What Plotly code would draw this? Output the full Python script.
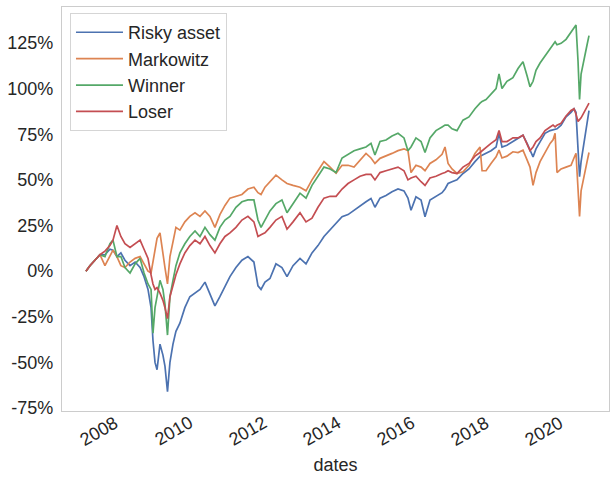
import plotly.graph_objects as go

dates = [
    "2007-01-26", "2007-03-06", "2007-04-24", "2007-06-13", "2007-08-01", "2007-09-19", "2007-10-19", "2007-11-27",
    "2008-01-05", "2008-02-14", "2008-04-04", "2008-05-24", "2008-07-12", "2008-08-20", "2008-09-28", "2008-10-28",
    "2008-11-16", "2008-12-06", "2008-12-26", "2009-01-24", "2009-02-22", "2009-03-14", "2009-04-08", "2009-05-02",
    "2009-06-01", "2009-06-30", "2009-08-08", "2009-09-26", "2009-11-14", "2010-01-04", "2010-02-22", "2010-04-12",
    "2010-05-31", "2010-07-19", "2010-09-06", "2010-10-26", "2010-12-14", "2011-02-11", "2011-04-11", "2011-06-09",
    "2011-08-07", "2011-09-16", "2011-10-16", "2011-11-24", "2012-01-12", "2012-03-11", "2012-05-09", "2012-06-28",
    "2012-08-26", "2012-11-03", "2013-01-01", "2013-03-01", "2013-04-29", "2013-06-27", "2013-08-26", "2013-10-24",
    "2013-12-22", "2014-02-19", "2014-04-19", "2014-06-17", "2014-08-15", "2014-10-03", "2014-11-11", "2014-12-31",
    "2015-02-28", "2015-04-28", "2015-06-26", "2015-08-24", "2015-10-02", "2015-11-01", "2015-12-20", "2016-02-08",
    "2016-03-18", "2016-05-06", "2016-07-04", "2016-09-02", "2016-10-01", "2016-10-31", "2016-12-09", "2017-01-27",
    "2017-03-27", "2017-05-25", "2017-07-23", "2017-09-11", "2017-10-01", "2017-11-09", "2017-12-28", "2018-02-16",
    "2018-03-17", "2018-04-15", "2018-06-03", "2018-08-01", "2018-09-20", "2018-11-08", "2018-12-18", "2019-01-16",
    "2019-02-15", "2019-03-16", "2019-04-25", "2019-06-13", "2019-08-02", "2019-08-31", "2019-09-20", "2019-10-09",
    "2019-11-18", "2020-01-06", "2020-02-24", "2020-03-24", "2020-04-13", "2020-05-03", "2020-05-18", "2020-06-02",
    "2020-06-22", "2020-07-11", "2020-07-31", "2020-08-19",
]

risky_asset = [
    0, 3, 6, 9, 9, 12, 11.5, 8,
    10, 6, 3, 5, 2, -3, -10, -20,
    -38, -50, -54, -40, -46, -52, -66, -50,
    -40, -33, -28.5, -20, -14, -12, -10, -6,
    -12, -19, -14, -8, -3, 2, 6, 8,
    5, -8, -10, -6, -4, 4, 2, -3,
    3, 7, 4, 10, 14, 19, 22.5, 26,
    29.8, 31, 33.4, 36, 38, 39.8, 35, 40,
    41.5, 43.5, 45, 44, 40, 33.4, 40.7, 39,
    29.8, 39, 41, 43, 45, 48, 49, 50,
    53.5, 56, 60, 63, 63.5, 64.5, 66, 68,
    75.5, 68, 69, 71, 73, 74.5, 70, 66,
    62.6, 67, 71, 75.5, 77, 77.5, 78, 78,
    80, 84.5, 87, 89, 87, 70, 51.7, 60,
    67, 73.6, 80, 88,
]

markowitz = [
    0, 3, 6, 9, 3, 8, 11.5, 8,
    3, 2, 5, 7, 8, 4, 0, -1,
    5, 11, 18, 21, 8, 2, -7, 8,
    16, 24, 22.5, 27, 30, 32, 30, 33,
    30, 24, 31, 36, 40, 41, 42, 45,
    46, 43, 42, 46, 49, 52.6, 50, 48,
    47, 46, 44, 50, 55, 60, 57, 53.6,
    58, 58, 57, 61, 64.5, 62, 59, 61.8,
    63, 64.5, 66, 67, 66, 54, 58, 57,
    55, 59, 61, 64, 68, 59, 56, 53.5,
    54.4, 58, 64.5, 68, 55, 55, 59, 62.6,
    66.3, 62, 63, 65.4, 65, 66.3, 61, 57,
    47, 54, 60, 65, 70, 72, 75.5, 54,
    56, 57, 58, 62, 64.5, 45, 30, 44,
    50, 55, 60, 65,
]

winner = [
    0, 3, 6, 9, 8, 15, 17, 8,
    8, 2, -1, 4, 7, -1, -7, -10,
    -34, -20, -14, -5, -10, -18, -35, -14,
    -5, 3, 10, 15, 19, 22, 19, 24,
    20, 17, 24, 28, 30, 35, 38, 39,
    39, 28, 24, 28, 33, 37, 39, 32,
    37, 42.7, 40, 47, 52, 57, 56, 54,
    62, 64, 66, 67, 68, 70, 63.6, 71,
    71.8, 74, 75.5, 73, 66, 68, 73, 71,
    65, 73, 77, 79, 80, 80, 78, 77,
    82.7, 84.5, 89, 92, 93, 94, 97, 100,
    108, 100, 104, 106, 111, 114.7, 107, 101,
    104, 110, 114, 118, 122, 124, 125.7, 124,
    124.8, 127, 131, 133, 134.8, 115, 94, 108,
    114, 120, 124, 129,
]

loser = [
    0, 3, 6, 9, 11, 14, 17, 25,
    19, 15, 13, 15, 17, 12, 7, -2,
    -7, -10, -9, -12, -16, -20, -26, -14,
    -8, -2, 4, 10, 14, 17, 15, 19,
    14, 10, 15, 19, 21, 24, 28, 30,
    27, 19, 20, 21, 24, 28, 30, 23,
    27, 32, 27, 29, 35, 40, 41, 41,
    45, 48, 50, 52, 53, 53, 50, 54,
    55, 56, 57, 55, 50, 51, 52, 49,
    47, 51, 52, 53.5, 54, 55, 54, 53.5,
    57, 59, 63, 65, 66, 68, 70, 72,
    77, 71, 71, 73, 73, 74.5, 70, 66,
    68, 71, 73, 77, 79, 80, 79, 80,
    81, 85, 88, 89, 86, 82, 83, 84,
    86, 88, 90, 92,
]

series_names = ["Risky asset", "Markowitz", "Winner", "Loser"]
series_values = [risky_asset, markowitz, winner, loser]
colors = ["#4C72B0", "#DD8452", "#55A868", "#C44E52"]

y_ticks = [-75, -50, -25, 0, 25, 50, 75, 100, 125]
y_tick_text = [f"{v}%" for v in y_ticks]
x_ticks = ["2008-01-01", "2010-01-01", "2012-01-01", "2014-01-01", "2016-01-01", "2018-01-01", "2020-01-01"]
x_tick_text = ["2008", "2010", "2012", "2014", "2016", "2018", "2020"]

FONT = "Liberation Sans, Arial, sans-serif"
TXT = "#262626"

fig = go.Figure()
for name, vals, col in zip(series_names, series_values, colors):
    fig.add_trace(go.Scatter(
        x=dates, y=vals, mode="lines", name=name,
        line=dict(color=col, width=1.7),
    ))

# rotated x tick labels, anchored at the tick with their top-right corner
for tv, tt in zip(x_ticks, x_tick_text):
    fig.add_annotation(
        x=tv, xref="x", y=0, yref="paper", text=tt, showarrow=False,
        textangle=-30, xanchor="right", yanchor="top", yshift=1, xshift=4,
        font=dict(family=FONT, size=18, color=TXT),
    )

fig.update_layout(
    width=610, height=478,
    margin=dict(l=62, r=1, t=7, b=67),
    paper_bgcolor="white", plot_bgcolor="white",
    font=dict(family=FONT, size=18, color=TXT),
    showlegend=True,
    legend=dict(
        x=0.0146, y=0.985, xanchor="left", yanchor="top",
        bgcolor="rgba(255,255,255,0.8)", bordercolor="#d5d5d5", borderwidth=1,
        font=dict(family=FONT, size=18, color=TXT),
        itemwidth=47,
    ),
    xaxis=dict(
        type="date", range=["2006-06-04", "2021-03-04"],
        tickvals=x_ticks, showticklabels=False, automargin=False,
        showgrid=False, zeroline=False,
        showline=True, mirror=True, linecolor="#cccccc", linewidth=1.25,
        ticks="",
        title=dict(text="dates", font=dict(size=18, color=TXT), standoff=47),
    ),
    yaxis=dict(
        range=[-76.6, 144.7], automargin=False,
        tickvals=y_ticks, ticktext=y_tick_text,
        showgrid=False, zeroline=False,
        showline=True, mirror=True, linecolor="#cccccc", linewidth=1.25,
        ticks="", tickfont=dict(size=18, color=TXT), ticklabelstandoff=4,
    ),
)

fig.write_html("out.html", config={"displayModeBar": False},
               post_script="document.body.style.margin='0';")
